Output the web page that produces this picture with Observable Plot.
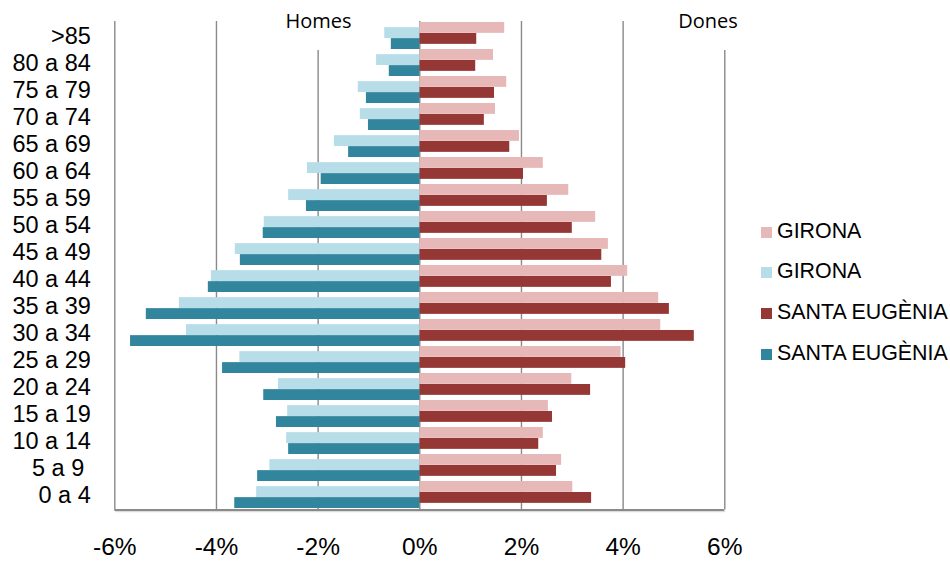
<!DOCTYPE html>
<html>
<head>
<meta charset="utf-8">
<script src="https://cdn.jsdelivr.net/npm/d3@7"></script>
<script src="https://cdn.jsdelivr.net/npm/@observablehq/plot@0.6"></script>
<style>
  html, body { margin: 0; padding: 0; background: #fff; }
  #wrap { position: relative; width: 950px; height: 563px; overflow: hidden; }
  .side { position: absolute; top: 0; height: 50px; background: #fff; font-family: "Open Sans", sans-serif; font-size: 20px; color: #000; text-align: center; line-height: 1; }
  .side span { position: absolute; left: 0; right: 0; top: 11px; }
  .leg { position: absolute; left: 761px; font-family: "Liberation Sans", Arial, sans-serif; font-size: 21.4px; color: #000; white-space: nowrap; line-height: 1; }
  .leg i { position: absolute; left: 0; top: 0; width: 11px; height: 11px; }
  .leg span { position: absolute; left: 16px; top: -6px; }
</style>
</head>
<body>
<div id="wrap"></div>
<script>
const ages = [">85","80 a 84","75 a 79","70 a 74","65 a 69","60 a 64","55 a 59","50 a 54","45 a 49","40 a 44","35 a 39","30 a 34","25 a 29","20 a 24","15 a 19","10 a 14","5 a 9\u00a0","0 a 4"];
const homesGirona = [-0.69,-0.85,-1.21,-1.17,-1.68,-2.21,-2.58,-3.06,-3.63,-4.10,-4.73,-4.59,-3.54,-2.78,-2.60,-2.62,-2.95,-3.21];
const homesSantaEugenia = [-0.56,-0.60,-1.05,-1.01,-1.40,-1.94,-2.23,-3.08,-3.53,-4.16,-5.38,-5.69,-3.88,-3.07,-2.82,-2.58,-3.19,-3.64];
const donesGirona = [1.67,1.45,1.71,1.49,1.96,2.43,2.93,3.46,3.71,4.09,4.70,4.74,3.96,2.99,2.53,2.43,2.79,3.01];
const donesSantaEugenia = [1.12,1.10,1.47,1.27,1.77,2.04,2.51,3.00,3.58,3.77,4.91,5.40,4.05,3.36,2.61,2.34,2.69,3.38];
const xTicks = [-6,-4,-2,0,2,4,6];
const xTickLabels = ["-6%","-4%","-2%","0%","2%","4%","6%"];
const sideTitles = ["Homes","Dones"];
const legendLabels = ["GIRONA","GIRONA","SANTA EUGÈNIA","SANTA EUGÈNIA"];

const C = {dg: "#E6B9B8", hg: "#B7DEE8", ds: "#953735", hs: "#31859C"};
const legendColors = [C.dg, C.hg, C.ds, C.hs];

const rows = ages.map((age, i) => ({
  age, hg: homesGirona[i], hs: homesSantaEugenia[i], dg: donesGirona[i], ds: donesSantaEugenia[i]
}));

const W = 950, H = 563, mt = 21, mb = 53.5, ml = 114.3, mr = 225.7;
const bw = (H - mt - mb) / ages.length;
const bh = 11;
const gridColor = "#8a8a8a";

const axisLine = (index, scales, values, dim) => {
  const g = d3.create("svg:g");
  g.append("line")
    .attr("x1", dim.marginLeft).attr("x2", dim.width - dim.marginRight)
    .attr("y1", dim.height - dim.marginBottom + 0.5).attr("y2", dim.height - dim.marginBottom + 0.5)
    .attr("stroke", gridColor).attr("stroke-width", 2);
  g.append("line")
    .attr("x1", dim.marginLeft + 1).attr("x2", dim.width - dim.marginRight + 1)
    .attr("y1", dim.height - dim.marginBottom + 2.2).attr("y2", dim.height - dim.marginBottom + 2.2)
    .attr("stroke", "#d4d4d4").attr("stroke-width", 1);
  return g.node();
};

const chart = Plot.plot({
  width: W, height: H,
  marginTop: mt, marginBottom: mb, marginLeft: ml, marginRight: mr,
  style: {fontFamily: "'Liberation Sans', Arial, sans-serif", fontSize: "23.5px", color: "#000", background: "transparent"},
  x: {domain: [-6, 6], ticks: xTicks, tickFormat: d => xTickLabels[xTicks.indexOf(d)], tickSize: 0, tickPadding: 28, label: null},
  y: {domain: ages, padding: 0, tickSize: 0, tickPadding: 24, label: null},
  marks: [
    Plot.ruleX(xTicks, {stroke: gridColor, strokeWidth: 1.4}),
    Plot.barX(rows, {y: "age", x1: 0, x2: "dg", fill: C.dg, insetTop: 0, insetBottom: bw - bh}),
    Plot.barX(rows, {y: "age", x1: 0, x2: "ds", fill: C.ds, insetTop: bh, insetBottom: bw - 2 * bh}),
    Plot.barX(rows, {y: "age", x1: "hg", x2: 0, fill: C.hg, insetTop: bw - 2 * bh, insetBottom: bh}),
    Plot.barX(rows, {y: "age", x1: "hs", x2: 0, fill: C.hs, insetTop: bw - bh, insetBottom: 0}),
    axisLine
  ]
});

d3.select(chart).selectAll('g[aria-label^="x-axis"]').attr("font-size", "24.5px");

const wrap = document.getElementById("wrap");
wrap.appendChild(chart);

// side titles (Homes / Dones) with white boxes
const sidePos = [{left: 268, width: 101}, {left: 658, width: 100}];
sideTitles.forEach((t, i) => {
  const d = document.createElement("div");
  d.className = "side";
  d.style.left = sidePos[i].left + "px";
  d.style.width = sidePos[i].width + "px";
  const s = document.createElement("span");
  s.textContent = t;
  d.appendChild(s);
  wrap.appendChild(d);
});

// legend
legendLabels.forEach((t, i) => {
  const d = document.createElement("div");
  d.className = "leg";
  d.style.top = (226.5 + i * 40.7) + "px";
  const sw = document.createElement("i");
  sw.style.background = legendColors[i];
  const s = document.createElement("span");
  s.textContent = t;
  d.appendChild(sw);
  d.appendChild(s);
  wrap.appendChild(d);
});
</script>
</body>
</html>
